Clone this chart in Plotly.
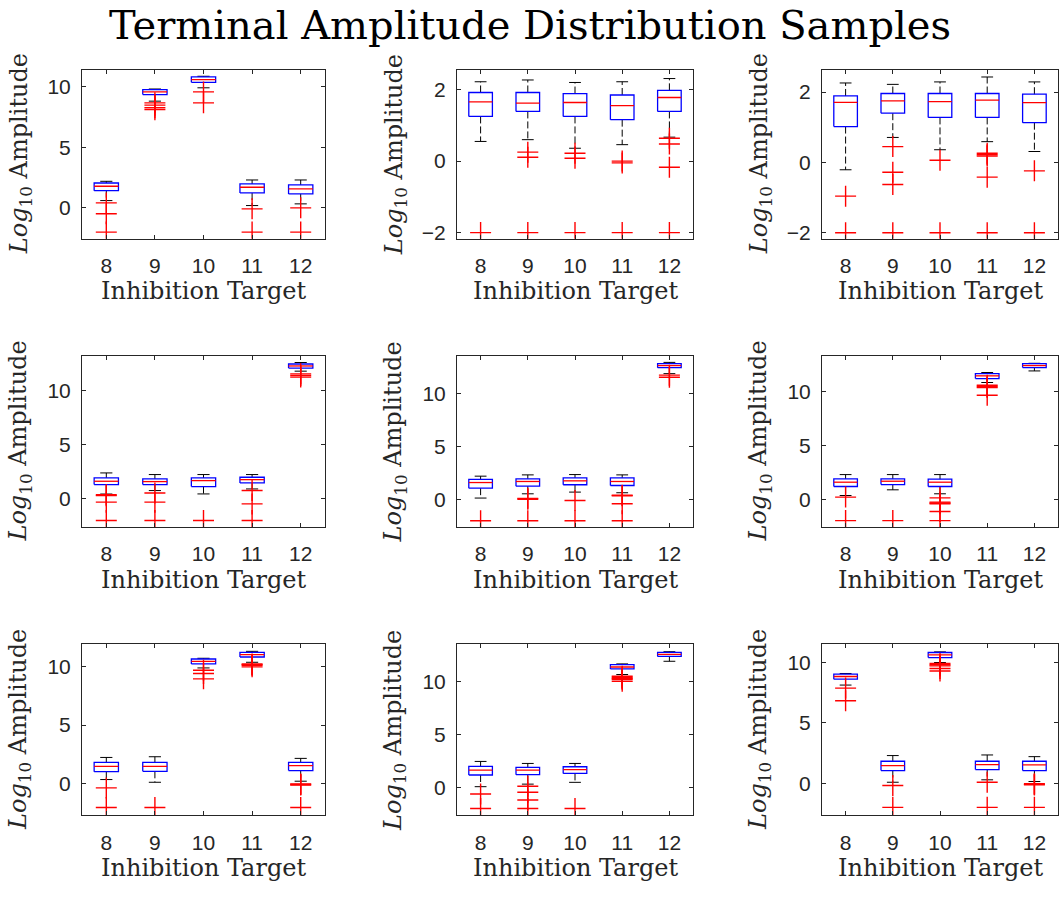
import plotly.graph_objects as go

# ---------------- data ----------------
CATEGORIES = [8, 9, 10, 11, 12]
TICK_LABELS = ["8", "9", "10", "11", "12"]

# one row per panel (row-major order, 3x3), one value per category
LOWER_WHISKER = [
    [0.60, 8.80, 9.90, 0.19, 0.33],
    [0.55, 0.60, 0.36, 0.46, 0.67],
    [-0.21, 0.71, 0.36, 0.59, 0.31],
    [0.45, 0.77, 0.46, 0.92, 11.80],
    [0.13, 0.53, 0.69, 0.63, 11.84],
    [0.34, 0.87, 0.50, 10.87, 11.95],
    [0.37, 0.14, 9.86, 10.34, 0.23],
    [0.06, 0.30, 0.47, 10.63, 11.88],
    [8.13, 0.08, 10.00, 0.28, 0.14],
]
Q1 = [
    [1.42, 9.34, 10.35, 1.23, 1.15],
    [1.25, 1.39, 1.25, 1.16, 1.39],
    [1.02, 1.40, 1.28, 1.28, 1.13],
    [1.32, 1.32, 1.14, 1.48, 12.09],
    [1.06, 1.25, 1.38, 1.31, 12.40],
    [1.18, 1.36, 1.18, 11.24, 12.26],
    [1.04, 1.07, 10.20, 10.79, 1.13],
    [1.16, 1.19, 1.31, 11.16, 12.34],
    [8.62, 1.05, 10.41, 1.13, 1.05],
]
MEDIAN = [
    [1.78, 9.56, 10.57, 1.70, 1.56],
    [1.66, 1.62, 1.64, 1.55, 1.78],
    [1.71, 1.75, 1.73, 1.77, 1.70],
    [1.63, 1.60, 1.69, 1.78, 12.28],
    [1.59, 1.69, 1.75, 1.69, 12.60],
    [1.58, 1.67, 1.58, 11.49, 12.45],
    [1.49, 1.49, 10.42, 10.99, 1.55],
    [1.63, 1.63, 1.66, 11.34, 12.53],
    [8.84, 1.46, 10.63, 1.54, 1.52],
]
Q3 = [
    [2.05, 9.75, 10.80, 1.97, 1.89],
    [1.92, 1.92, 1.89, 1.85, 1.98],
    [1.89, 1.96, 1.96, 1.96, 1.94],
    [1.94, 1.85, 1.94, 2.00, 12.46],
    [1.88, 1.94, 2.03, 2.03, 12.78],
    [1.89, 1.89, 1.86, 11.70, 12.63],
    [1.83, 1.83, 10.62, 11.18, 1.83],
    [1.97, 1.88, 1.94, 11.56, 12.72],
    [9.04, 1.82, 10.83, 1.82, 1.82],
]
UPPER_WHISKER = [
    [2.19, 9.80, 10.85, 2.30, 2.30],
    [2.22, 2.27, 2.20, 2.22, 2.31],
    [2.26, 2.22, 2.29, 2.43, 2.29],
    [2.40, 2.25, 2.25, 2.25, 12.60],
    [2.19, 2.31, 2.34, 2.31, 12.90],
    [2.29, 2.29, 2.29, 11.80, 12.66],
    [2.25, 2.31, 10.68, 11.27, 2.17],
    [2.44, 2.25, 2.25, 11.63, 12.78],
    [9.09, 2.29, 10.88, 2.34, 2.20],
]
OUTLIERS = [
    [[0.41, -0.49, -2], [8.66, 8.47, 8.25, 8.10], [9.56, 8.66], [-0.08, -2], [0.0, -2]],
    [[-2], [0.25, 0.11, -2], [0.22, 0.08, -2], [0.0, -0.05, -2], [0.64, 0.48, -0.17, -2]],
    [[-0.96, -2], [0.45, -0.28, -0.63, -2], [0.06, -2], [0.26, 0.22, 0.18, -0.42, -2], [-0.24, -2]],
    [[0.38, 0.30, -0.30, -2], [0.55, -0.30, -2], [-2], [0.77, -0.46, -2], [11.55, 11.40, 11.25]],
    [[-2], [0.10, 0.02, -2], [-0.10, -2], [0.40, 0.35, -0.40, -2], [11.70, 11.50]],
    [[0.19, -2], [-2], [0.12, -0.28, -0.36, -0.43, -1.15, -2], [10.62, 10.50, 10.40, 9.69], []],
    [[-0.34, -2], [-2], [9.66, 9.38, 8.93], [10.20, 10.14, 10.08, 9.95], [0.0, -0.05, -0.10, -2]],
    [[-0.63, -2], [0.10, -0.47, -1.19, -2], [-2], [10.47, 10.35, 10.25, 10.18, 10.0], []],
    [[7.88, 6.83], [-0.19, -2], [9.92, 9.82, 9.72, 9.50, 9.30], [0.08, -2], [-0.05, -0.10, -0.14, -2]],
]

Y_RANGES = [
    [-2.54, 11.4], [-2.17, 2.56], [-2.17, 2.64],
    [-2.6, 13.2], [-2.6, 13.5], [-2.6, 13.34],
    [-2.68, 11.86], [-2.65, 13.47], [-2.67, 11.5],
]
Y_TICKS = [
    [0, 5, 10], [-2, 0, 2], [-2, 0, 2],
    [0, 5, 10], [0, 5, 10], [0, 5, 10],
    [0, 5, 10], [0, 5, 10], [0, 5, 10],
]

TITLE = "Terminal Amplitude Distribution Samples"
X_TITLE = "Inhibition Target"
Y_TITLE = "<i>Log</i><sub>10</sub> Amplitude"

# ---------------- layout geometry ----------------
W, H = 1060, 899
COL_PX = [(82, 325), (457, 693), (822, 1058)]
ROW_PX = [(70, 240), (358, 530), (648, 820)]
BOX_HALF = 0.25
CAP_HALF = 0.125

AX_COLOR = "#262626"
SANS = "Liberation Sans, Arial, sans-serif"
SERIF = "DejaVu Serif, serif"

fig = go.Figure()
layout = dict(
    width=W, height=H, margin=dict(l=0, r=0, t=0, b=0),
    paper_bgcolor="white", plot_bgcolor="white", showlegend=False,
)
annotations = []

for p in range(9):
    r, c = divmod(p, 3)
    idx = "" if p == 0 else str(p + 1)
    xa, ya = "x" + idx, "y" + idx
    x0, x1 = COL_PX[c]
    y0, y1 = ROW_PX[r]

    bx, by, mx, my, wx, wy, cx, cy, ox, oy = [], [], [], [], [], [], [], [], [], []
    for k, cat in enumerate(CATEGORIES):
        lo, q1, md, q3, hi = (LOWER_WHISKER[p][k], Q1[p][k], MEDIAN[p][k],
                              Q3[p][k], UPPER_WHISKER[p][k])
        bx += [cat - BOX_HALF, cat + BOX_HALF, cat + BOX_HALF, cat - BOX_HALF, cat - BOX_HALF, None]
        by += [q1, q1, q3, q3, q1, None]
        mx += [cat - BOX_HALF, cat + BOX_HALF, None]
        my += [md, md, None]
        wx += [cat, cat, None, cat, cat, None]
        wy += [q3, hi, None, q1, lo, None]
        cx += [cat - CAP_HALF, cat + CAP_HALF, None, cat - CAP_HALF, cat + CAP_HALF, None]
        cy += [hi, hi, None, lo, lo, None]
        for v in OUTLIERS[p][k]:
            ox.append(cat)
            oy.append(v)

    fig.add_trace(go.Scatter(x=wx, y=wy, mode="lines", xaxis=xa, yaxis=ya,
                             line=dict(color="black", width=1, dash="7px,3px"), hoverinfo="skip"))
    fig.add_trace(go.Scatter(x=cx, y=cy, mode="lines", xaxis=xa, yaxis=ya,
                             line=dict(color="black", width=1), hoverinfo="skip"))
    fig.add_trace(go.Scatter(x=bx, y=by, mode="lines", xaxis=xa, yaxis=ya,
                             line=dict(color="#0000ff", width=1.3), hoverinfo="skip"))
    fig.add_trace(go.Scatter(x=mx, y=my, mode="lines", xaxis=xa, yaxis=ya,
                             line=dict(color="#ff0000", width=1.3), hoverinfo="skip"))
    fig.add_trace(go.Scatter(x=ox, y=oy, mode="markers", xaxis=xa, yaxis=ya,
                             marker=dict(symbol="cross-thin", size=15, color="#ff0000",
                                         line=dict(color="#ff0000", width=1.4)),
                             hoverinfo="skip"))

    common = dict(showgrid=False, zeroline=False, showline=True, linecolor=AX_COLOR,
                  linewidth=1, mirror="ticks", ticks="inside", ticklen=4,
                  tickcolor=AX_COLOR, tickfont=dict(family=SANS, size=21, color=AX_COLOR))
    layout["xaxis" + idx] = dict(
        common, domain=[x0 / W, x1 / W], anchor=ya, range=[7.5, 12.5],
        tickmode="array", tickvals=CATEGORIES, ticktext=TICK_LABELS, ticklabelstandoff=8)
    layout["yaxis" + idx] = dict(
        common, domain=[1 - y1 / H, 1 - y0 / H], anchor=xa, range=Y_RANGES[p],
        tickmode="array", tickvals=Y_TICKS[p], ticklabelstandoff=6)

    annotations.append(dict(
        text=X_TITLE, xref="paper", yref="paper", x=(x0 + x1) / 2 / W, y=1 - (y1 + 53) / H,
        xanchor="center", yanchor="middle", showarrow=False,
        font=dict(family=SERIF, size=24, color=AX_COLOR)))
    annotations.append(dict(
        text=Y_TITLE, xref="paper", yref="paper", x=(x0 - 62) / W, y=1 - (y0 + y1) / 2 / H,
        xanchor="center", yanchor="middle", showarrow=False, textangle=-90,
        font=dict(family=SERIF, size=24, color=AX_COLOR)))

annotations.append(dict(
    text=TITLE, xref="paper", yref="paper", x=0.5, y=1.0,
    xanchor="center", yanchor="top", showarrow=False,
    font=dict(family=SERIF, size=40, color="black")))

layout["annotations"] = annotations
fig.update_layout(**layout)
fig.write_html("out.html")
